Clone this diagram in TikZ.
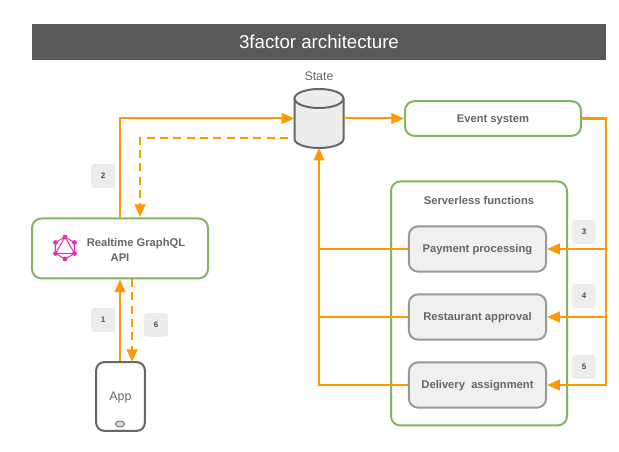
\documentclass[tikz,border=0pt]{standalone}
\usepackage{fontspec}
\setmainfont{Liberation Sans}
\usetikzlibrary{shapes.geometric,arrows.meta}
\definecolor{flowcolor}{HTML}{FF9900}
\definecolor{boxgreen}{HTML}{82B366}
\definecolor{textgray}{HTML}{666666}
\definecolor{titlegray}{HTML}{595959}
\definecolor{graphqlpink}{HTML}{E535AB}
\tikzset{
	labeltext/.style={text=textgray,text height=6pt,text depth=0pt,font=\fontsize{8.4}{11}\selectfont\bfseries},
	plaintext/.style={text=textgray,text height=6.6pt,text depth=0pt,font=\fontsize{9.3}{11}\selectfont},
	greenbox/.style={labeltext,shape=rectangle,draw=boxgreen,line width=1.5pt,rounded corners=7pt,fill=white},
	funcbox/.style={labeltext,shape=rectangle,draw=black!40,line width=1.5pt,rounded corners=7pt,fill=black!6,minimum width=103pt,minimum height=34pt},
	badge/.style={shape=rectangle,fill=black!7,rounded corners=2.5pt,minimum size=18pt,inner sep=0pt,text=black!70,font=\fontsize{6}{6}\selectfont\bfseries},
	flow/.style={draw=flowcolor,line width=1.5pt,-{Triangle[length=9.5pt,width=8pt]}},
	flowline/.style={draw=flowcolor,line width=1.5pt},
	flowdash/.style={flow,dash pattern=on 6pt off 4pt},
	drum/.style={draw=black!60,fill=black!7,line width=1.5pt}
}
\begin{document}
\begin{tikzpicture}[x=0.75pt,y=-0.75pt]
	\useasboundingbox (0,0) rectangle (619,452);

	\node[shape=rectangle,fill=titlegray,text=white,minimum width=430.5pt,minimum height=27pt,font=\fontsize{14}{16}\selectfont] (title) at (319,42) {3factor architecture};

	% state drum
	\node[shape=rectangle,minimum width=37pt,minimum height=44pt,inner sep=0pt,outer sep=0pt] (state) at (319,118.5) {};
	\draw[drum] (294.5,98.5) -- (294.5,139) arc[start angle=180,end angle=0,x radius=24.5,y radius=9] -- (343.5,98.5);
	\draw[drum] (319,98.5) ellipse[x radius=24.5,y radius=9.5];
	\node[plaintext] (statelabel) at (319,76.5) {State};

	\node[greenbox,minimum width=132pt,minimum height=26pt] (event) at (493,118.5) {Event system};
	\node[greenbox,minimum width=132pt,minimum height=183pt] (serverless) at (479,303.5) {};
	\node[labeltext] (serverlesslabel) at (479,200.5) {Serverless functions};

	\node[funcbox] (payment) at (477.5,249) {Payment processing};
	\node[funcbox] (restaurant) at (477.5,317) {Restaurant approval};
	\node[funcbox] (delivery) at (477.5,385) {Delivery\ \ assignment};

	\node[greenbox,minimum width=132pt,minimum height=45pt] (api) at (120,248.5) {};
	\node[text=textgray,align=center,font=\fontsize{8.4}{11}\selectfont\bfseries] (apilabel) at (136,250) {Realtime GraphQL\\\hspace*{-24pt}API};

	% graphql logo
	\foreach \i in {0,...,5} {
		\coordinate (logo\i) at ({65+11*cos(60*\i+30)},{248+11*sin(60*\i+30)});
	}
	\draw[graphqlpink,line width=0.8pt] (logo0) -- (logo1) -- (logo2) -- (logo3) -- (logo4) -- (logo5) -- cycle;
	\draw[graphqlpink,line width=0.8pt] (logo0) -- (logo2) -- (logo4) -- cycle;
	\foreach \i in {0,...,5} {
		\fill[graphqlpink] (logo\i) circle (1.8pt);
	}

	\node[plaintext,shape=rectangle,draw=black!60,fill=white,line width=1.5pt,rounded corners=6pt,minimum width=36.5pt,minimum height=51.5pt] (app) at (120.5,396.5) {App};
	\node[shape=ellipse,draw=black!60,fill=black!15,line width=0.6pt,minimum width=7pt,minimum height=4.5pt,inner sep=0pt] (appbutton) at (120,424) {};

	\node[badge] (badgetwo) at (103,176) {2};
	\node[badge] (badgeone) at (103,320) {1};
	\node[badge] (badgesix) at (156,325) {6};
	\node[badge] (badgethree) at (584,232) {3};
	\node[badge] (badgefour) at (584,296) {4};
	\node[badge] (badgefive) at (584,367) {5};

	\coordinate (rail) at (606,118.5);
	\coordinate (dashstart) at (288,138);
	\coordinate (dashend) at (140,217);
	\coordinate (appdashtop) at (132,279);
	\coordinate (appdashend) at (132,362);

	\draw[flow] (app.north -| api.south) -- (api.south);
	\draw[flow] (api.north) |- (state.west);
	\draw[flowdash] (dashstart) -| (dashend);
	\draw[flowdash] (appdashtop) -- (appdashend);
	\draw[flow] (state.east) -- (event.west);

	\draw[flowline,line width=2.2pt] (event.east) -- (rail) -- (rail |- restaurant.east);
	\draw[flow] (rail |- restaurant.east) -- (rail |- delivery.east) -- (delivery.east);
	\draw[flow] (rail |- payment.east) -- (payment.east);
	\draw[flow] (rail |- restaurant.east) -- (restaurant.east);

	\draw[flow] (delivery.west) -| (state.south);
	\draw[flowline] (payment.west) -- (state.south |- payment.west);
	\draw[flowline] (restaurant.west) -- (state.south |- restaurant.west);
\end{tikzpicture}
\end{document}
